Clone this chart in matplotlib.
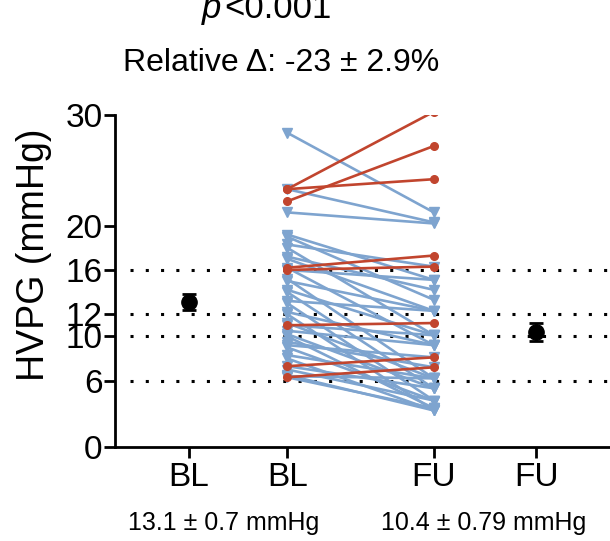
import numpy as np
import matplotlib
matplotlib.use("Agg")
import matplotlib.pyplot as plt

plt.rcParams['font.family'] = ['Liberation Sans', 'DejaVu Sans']

# x categories (BL mean, BL paired, FU paired, FU mean)
tick_labels = ["BL", "BL", "FU", "FU"]
tick_pos = [1.0, 2.0, 3.49, 4.53]

# patients whose HVPG went up (red)
up_bl = [23.3, 22.2, 23.3, 16.2, 16.0, 11.0, 7.3, 6.3]
up_fu = [30.3, 27.2, 24.2, 17.3, 16.3, 11.2, 8.1, 7.2]

# patients whose HVPG went down (blue)
down_bl = [28.4, 23.3, 21.2, 19.2, 19.0, 18.3, 18.0, 17.2, 17.0, 16.2, 16.0,
           15.2, 15.0, 14.2, 14.0, 13.2, 13.0, 12.2, 12.0, 11.2, 11.0, 10.2,
           10.0, 9.2, 9.0, 8.3, 8.0, 7.3, 7.0, 6.5, 6.4, 6.3, 9.5, 10.5]
down_fu = [21.2, 20.3, 20.2, 15.1, 13.3, 16.3, 10.1, 14.2, 12.3, 9.2, 15.1,
           6.2, 12.3, 10.1, 5.3, 12.3, 4.2, 9.2, 3.3, 6.2, 10.1, 5.3,
           3.5, 8.1, 4.2, 6.2, 3.3, 5.3, 4.2, 3.3, 6.2, 3.5, 7.2, 9.2]

# summary values (mean, SEM)
means = [13.1, 10.4]
sems = [0.7, 0.79]

ref_lines = [6, 10, 12, 16]
y_ticks = [0, 6, 10, 12, 16, 20, 30]

blue = "#7ea4cf"
red = "#c1452e"

fig = plt.figure(figsize=(6.1, 5.41), dpi=100)
ax = fig.add_axes([0.1885, 0.1738, 0.8115, 0.6136])

for y in ref_lines:
    ax.plot([0.4, 6.0], [y, y], color="black", linestyle=(0, (1, 4)), linewidth=2.2, zorder=1)

for b, f in zip(down_bl, down_fu):
    ax.plot([tick_pos[1], tick_pos[2]], [b, f], color=blue, linewidth=1.9, zorder=2)
    ax.plot([tick_pos[1], tick_pos[2]], [b, f], "v", color=blue, markersize=7, zorder=3)

for b, f in zip(up_bl, up_fu):
    ax.plot([tick_pos[1], tick_pos[2]], [b, f], color=red, linewidth=1.9, zorder=4)
    ax.plot([tick_pos[1], tick_pos[2]], [b, f], "o", color=red, markersize=5.5, zorder=5)

ax.errorbar([tick_pos[0], tick_pos[3]], means, yerr=sems, fmt="o", color="black",
            markersize=11, capsize=5, elinewidth=2, capthick=2, zorder=6)

ax.set_xlim(0.25, 5.28)
ax.set_ylim(0, 30)
ax.set_yticks(y_ticks)
ax.set_xticks(tick_pos)
ax.set_xticklabels(tick_labels)
ax.tick_params(axis="both", labelsize=24, width=2, length=8, direction="out")
ax.tick_params(axis="y", pad=1)
ax.tick_params(axis="x", pad=3)

ax.spines["top"].set_visible(False)
ax.spines["right"].set_visible(False)
ax.spines["left"].set_linewidth(2)
ax.spines["bottom"].set_linewidth(2)
ax.patch.set_visible(False)

fig.text(34 / 610, 1 - 255 / 541, "HVPG (mmHg)", rotation=90, ha="center", va="center", fontsize=27)

fig.text(202 / 610, 1 - 18 / 541, "p", style="italic", fontsize=25, ha="left", va="baseline")
fig.text(224 / 610, 1 - 18 / 541, "<0.001", fontsize=25, ha="left", va="baseline")
fig.text(281 / 610, 1 - 71 / 541, "Relative \u0394: -23 \u00b1 2.9%", fontsize=23, ha="center", va="baseline")

fig.text(224 / 610, 1 - 530 / 541, "13.1 \u00b1 0.7 mmHg", fontsize=18, ha="center", va="baseline")
fig.text(484 / 610, 1 - 530 / 541, "10.4 \u00b1 0.79 mmHg", fontsize=18, ha="center", va="baseline")

fig.savefig("out.png", dpi=100)
